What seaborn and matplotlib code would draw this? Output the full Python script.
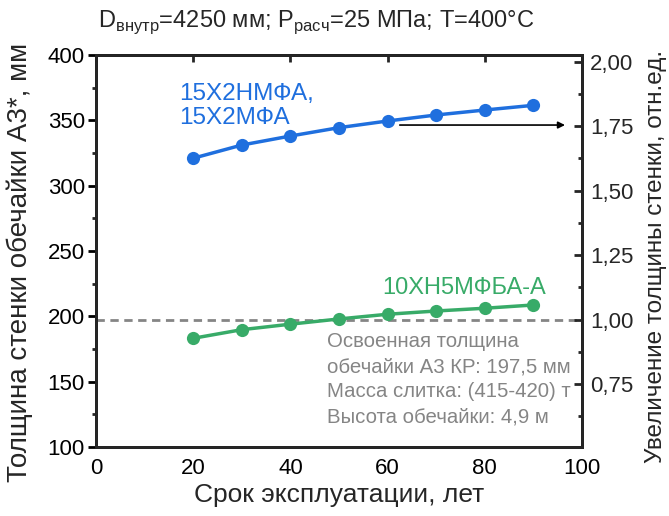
import matplotlib
matplotlib.use("Agg")
import matplotlib.pyplot as plt
import seaborn as sns
import pandas as pd
import numpy as np
from matplotlib.ticker import MultipleLocator, FuncFormatter

# ---- data ----
years = [20, 30, 40, 50, 60, 70, 80, 90]
thick_15x2 = [321.0, 331.1, 338.0, 344.4, 349.5, 354.1, 357.9, 361.5]
thick_10xh5 = [183.2, 189.8, 194.0, 198.0, 201.6, 204.1, 206.2, 208.7]
ref_thick = 197.5
label_blue = "15Х2НМФА,\n15Х2МФА"
label_green = "10ХН5МФБА-А"
note_lines = ["Освоенная толщина", "обечайки А3 КР: 197,5 мм",
              "Масса слитка: (415-420) т", "Высота обечайки: 4,9 м"]

sns.set_theme(style="white")
plt.rcParams['font.family'] = ['Liberation Sans', 'DejaVu Sans']
plt.rcParams['mathtext.fontset'] = 'custom'
plt.rcParams['mathtext.rm'] = 'Liberation Sans'

blue = "#1f6fde"
green = "#38ab68"
gray = "#858585"

df = pd.DataFrame({
    "year": years * 2,
    "thick": thick_15x2 + thick_10xh5,
    "steel": ["a"] * len(years) + ["b"] * len(years),
})

fig = plt.figure(figsize=(6.69, 5.16), dpi=100)
ax = fig.add_axes([0.1435, 0.1337, 0.870 - 0.1435, 0.8934 - 0.1337])

sns.lineplot(data=df, x="year", y="thick", hue="steel",
             palette={"a": blue, "b": green}, marker="o", markersize=9.5,
             markeredgewidth=0, linewidth=2.5, legend=False, ax=ax)

ax.axhline(ref_thick, color=gray, linestyle=(0, (3, 2)), linewidth=2, zorder=1)

ax.set_xlim(0, 100)
ax.set_ylim(100, 400)
ax.xaxis.set_major_locator(MultipleLocator(20))
ax.xaxis.set_minor_locator(MultipleLocator(10))
ax.yaxis.set_major_locator(MultipleLocator(50))
ax.yaxis.set_minor_locator(MultipleLocator(25))

for s in ax.spines.values():
    s.set_linewidth(2)
    s.set_color("black")

ax.tick_params(axis="both", which="major", direction="out", length=6, width=2,
               labelsize=16, colors="black", pad=2)
ax.tick_params(axis="both", which="minor", direction="out", length=3, width=2)

ax.set_xlabel("Срок эксплуатации, лет", fontsize=19, labelpad=3)
ax.set_ylabel("Толщина стенки обечайки А3*, мм", fontsize=20)
ax.yaxis.set_label_coords(-0.13, 0.47)

# inward major ticks on top spine
axt = ax.secondary_xaxis("top")
axt.xaxis.set_major_locator(MultipleLocator(20))
axt.tick_params(axis="x", which="major", direction="in", length=5, width=2,
                labeltop=False)
axt.tick_params(axis="x", which="minor", length=0)

ax2 = ax.twinx()
ax2.set_ylim(100 / ref_thick, 400 / ref_thick)
ax2.yaxis.set_major_locator(MultipleLocator(0.25))
ax2.yaxis.set_minor_locator(MultipleLocator(0.125))
ax2.yaxis.set_major_formatter(FuncFormatter(lambda v, p: f"{v:.2f}".replace(".", ",")))
ax2.tick_params(axis="y", which="major", direction="in", length=6, width=2,
                labelsize=16, pad=6)
ax2.tick_params(axis="y", which="minor", direction="in", length=3, width=2)
for s in ax2.spines.values():
    s.set_linewidth(2)
ax2.set_ylabel("Увеличение толщины стенки, отн.ед.", fontsize=17.5)
ax2.yaxis.set_label_coords(1.13, 0.485)
ax2.grid(False)

ax.text(17, 361, label_blue, color=blue, fontsize=17.5, ha="left", va="center",
        linespacing=1.15)
ax.text(92.5, 222, label_green, color=green, fontsize=17, ha="right", va="center")
for i, line in enumerate(note_lines):
    ax.text(47.5, 180.4 - 19.1 * i, line, color=gray, fontsize=14.7,
            ha="left", va="center")

ax.annotate("", xy=(96.5, 346.4), xytext=(62.5, 346.4),
            arrowprops=dict(arrowstyle="-|>", color="black", lw=1.2,
                            mutation_scale=10, shrinkA=0, shrinkB=0))

fig.text(0.1465, 0.957,
         r"D$_{\mathregular{внутр}}$=4250 мм; P$_{\mathregular{расч}}$=25 МПа; T=400°C",
         fontsize=17, ha="left", va="center")

fig.savefig("out.png", dpi=100)
